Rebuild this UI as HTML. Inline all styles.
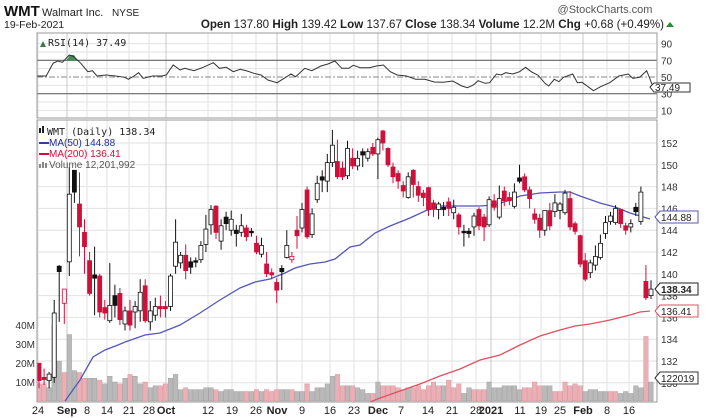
<!DOCTYPE html>
<html><head><meta charset="utf-8">
<style>
html,body{margin:0;padding:0;background:#fff;width:716px;height:418px;overflow:hidden}
svg{display:block;font-family:"Liberation Sans",sans-serif}
</style></head><body>
<svg id="c" width="716" height="418" viewBox="0 0 716 418" xmlns="http://www.w3.org/2000/svg">
<text x="4" y="16" font-size="15" font-weight="bold" fill="#111">WMT</text>
<text x="42" y="16" font-size="11" fill="#222">Walmart Inc.</text>
<text x="112" y="16" font-size="10" fill="#222">NYSE</text>
<text x="4" y="28" font-size="10.5" fill="#222">19-Feb-2021</text>
<text x="605" y="13" font-size="11" fill="#555" text-anchor="middle">@StockCharts.com</text>
<text x="664" y="28" font-size="11.6" fill="#222" text-anchor="end"><tspan font-weight="bold">Open</tspan> 137.80 <tspan font-weight="bold">High</tspan> 139.42 <tspan font-weight="bold">Low</tspan> 137.67 <tspan font-weight="bold">Close</tspan> 138.34 <tspan font-weight="bold">Volume</tspan> 12.2M <tspan font-weight="bold">Chg</tspan> +0.68 (+0.49%)</text>
<polygon points="666,27 670,22 674,27" fill="#2a8a3a"/>
<g id="g"></g>
</svg>
<script>
var g=document.getElementById('g'),S='';
function L(x1,y1,x2,y2,c,w,d){S+='<line x1="'+x1+'" y1="'+y1+'" x2="'+x2+'" y2="'+y2+'" stroke="'+c+'" stroke-width="'+(w||1)+'"'+(d?' stroke-dasharray="'+d+'"':'')+'/>';}
function T(x,y,t,o){S+='<text x="'+x+'" y="'+y+'" '+(o||'')+'>'+t+'</text>';}
var X0=37,X1=657;
var dates=[[38,'24',0],[67,'Sep',1],[87,'8',0],[107,'14',0],[129,'21',0],[149,'28',0],[166,'Oct',1],[208,'12',0],[232,'19',0],[256,'26',0],[277,'Nov',1],[302,'9',0],[330,'16',0],[354,'23',0],[378,'Dec',1],[401,'7',0],[428,'14',0],[452,'21',0],[476,'28',0],[491,'2021',1],[520,'11',0],[541,'19',0],[560,'25',0],[583,'Feb',1],[607,'8',0],[629,'16',0]];
var RT=33,RB=118;
function ry(r){return 77-(r-50)*0.835;}
for(var r=10;r<=90;r+=10){if(r!=70&&r!=30&&r!=50)L(X0,ry(r),X1,ry(r),'#e2e2e2');}
dates.forEach(function(d){L(d[0],RT,d[0],RB,d[2]?'#c8c8c8':'#e2e2e2');});
L(X0,ry(70),X1,ry(70),'#666',1.2);L(X0,ry(30),X1,ry(30),'#666',1.2);L(X0,ry(50),X1,ry(50),'#888',1,'6,2,2,2');
var rp=[[80,228],[100,228],[115,190],[125,183],[135,187],[150,165],[160,170],[175,190],[190,215],[200,212],[210,228],[230,225],[250,228],[270,232],[278,238],[290,228],[300,218],[310,235],[330,228],[350,228],[360,225],[375,195],[390,210],[400,205],[420,212],[440,202],[462,188],[475,205],[490,202],[505,215],[520,208],[535,213],[550,220],[565,225],[580,240],[600,248],[615,235],[630,222],[640,230],[660,205],[675,212],[695,198],[710,192],[725,183],[740,205],[755,205],[765,196],[780,203],[800,203],[815,198],[830,195],[845,215],[860,225],[880,228],[900,238],[920,238],[940,246],[960,247],[980,243],[1000,258],[1012,263],[1025,255],[1035,242],[1050,250],[1060,248],[1075,222],[1085,225],[1095,218],[1110,222],[1125,215],[1138,202],[1150,215],[1165,226],[1180,250],[1188,258],[1200,238],[1210,245],[1220,232],[1240,222],[1250,248],[1260,247],[1275,262],[1285,272],[1300,260],[1320,248],[1340,228],[1360,222],[1370,235],[1385,232],[1400,212],[1415,265],[1425,260]];
S+='<polygon points="66,61 70,55 74,55 78,61" fill="#4a8a5a"/>';
S+='<polyline fill="none" stroke="#333" stroke-width="1" points="'+rp.map(function(p){return (p[0]/2.165).toFixed(1)+','+(p[1]/3).toFixed(1)}).join(' ')+'"/>';
S+='<rect x="'+X0+'" y="'+RT+'" width="'+(X1-X0)+'" height="'+(RB-RT)+'" fill="none" stroke="#999"/>';
[90,70,50,30,10].forEach(function(r){T(661,ry(r)+4,r,'font-size="10" fill="#333"');});
S+='<polygon points="650,87 654,83 690,83 690,92 654,92" fill="#fff" stroke="#333"/>';T(655,91,'37.49','font-size="10" fill="#222"');
S+='<polygon points="40,47 43,41 46,47" fill="#3a7a4a"/>';T(48,46,'RSI(14) 37.49','font-size="10" fill="#222" font-family="DejaVu Sans Mono, monospace"');
var MT=120,MB=402;
function py(p){return 143+(152-p)*10.9;}
for(var p=130;p<=152;p+=2){L(X0,py(p),X1,py(p),'#e2e2e2');}
dates.forEach(function(d){L(d[0],MT,d[0],MB,d[2]?'#c8c8c8':'#e2e2e2');});
var vol=[[9,'p'],[9,'p'],[7,'g'],[40,'g'],[21,'g'],[15,'p'],[35,'g'],[16,'g'],[15,'p'],[12,'p'],[12,'g'],[12,'g'],[11,'p'],[9,'g'],[13,'g'],[10,'g'],[9,'p'],[12,'g'],[14,'p'],[13,'g'],[9,'g'],[10,'p'],[7,'g'],[8,'g'],[8,'p'],[9,'p'],[12,'g'],[14,'g'],[6,'g'],[7,'p'],[6,'g'],[6,'g'],[6,'g'],[7,'g'],[7,'g'],[6,'p'],[5,'g'],[6,'g'],[6,'g'],[5,'g'],[5,'g'],[5,'p'],[5,'g'],[6,'p'],[5,'g'],[6,'p'],[5,'p'],[6,'p'],[6,'g'],[6,'g'],[6,'p'],[5,'g'],[5,'g'],[9,'p'],[5,'g'],[7,'g'],[7,'g'],[9,'g'],[13,'g'],[14,'p'],[8,'p'],[8,'g'],[8,'p'],[7,'g'],[6,'g'],[4,'g'],[4,'p'],[10,'g'],[8,'p'],[8,'p'],[8,'p'],[7,'p'],[6,'p'],[7,'g'],[7,'p'],[8,'p'],[6,'p'],[8,'p'],[10,'p'],[8,'p'],[8,'g'],[11,'p'],[7,'p'],[9,'p'],[4,'g'],[7,'g'],[6,'p'],[6,'p'],[6,'p'],[10,'g'],[7,'g'],[7,'g'],[8,'g'],[8,'g'],[8,'g'],[6,'g'],[7,'p'],[7,'p'],[10,'p'],[8,'p'],[8,'g'],[8,'g'],[5,'p'],[5,'p'],[10,'p'],[8,'p'],[9,'p'],[8,'p'],[5,'g'],[6,'g'],[6,'g'],[5,'g'],[5,'g'],[5,'p'],[5,'p'],[4,'g'],[5,'g'],[4,'g'],[8,'g'],[7,'g'],[34,'p'],[10,'g']];
var N=122;function xi(i){return 39+i*(612/(N-1));}
vol.forEach(function(v,i){var h=v[0]*1.9;S+='<rect x="'+(xi(i)-2.3).toFixed(1)+'" y="'+(401-h).toFixed(1)+'" width="4.6" height="'+h.toFixed(1)+'" fill="'+(v[1]=='p'?'#eab0b6':'#b9b9b9')+'" stroke="'+(v[1]=='p'?'#d89098':'#999')+'" stroke-width="0.4"/>';});
var ma50=[[65,401],[80,380],[93,357],[105,350],[118,345],[125,342],[145,335],[160,333],[180,325],[200,313],[220,300],[240,288],[255,282],[270,279],[285,273],[295,268],[310,264],[325,262],[335,259],[350,247],[360,245],[375,233],[390,226],[410,218],[425,211],[440,206],[460,206],[480,206],[495,205],[510,200],[520,196],[540,193],[560,192],[570,192],[580,196],[600,203],[615,207],[630,213],[640,216],[650,219]];
var ma200=[[370,402],[380,398],[400,391],[420,384],[440,376],[460,369],[480,360],[500,355],[520,345],[540,336],[560,330],[575,326],[590,324],[610,320],[630,315],[640,312],[650,311]];
S+='<polyline fill="none" stroke="#5555bb" stroke-width="1.3" points="'+ma50.join(' ')+'"/>';
S+='<polyline fill="none" stroke="#e05060" stroke-width="1.3" points="'+ma200.join(' ')+'"/>';
var cd=[[131.8,130.2,131.8,129.5,'r'],[130.5,130.3,131.3,129.8,'r'],[130.8,130.2,131,129.5,'w'],[136.4,130.5,137.6,130,'w'],[140.7,140.2,140.8,135.6,'b'],[138.6,137.3,138.6,135.4,'rh'],[147.3,141.1,149.8,139.8,'w'],[149.5,147.5,149.5,146.5,'b'],[146.4,144.3,149.3,141.6,'r'],[143.8,142.5,145,140,'r'],[141.2,138.2,142,138,'r'],[139.9,139.6,142.5,136.2,'b'],[139.8,136.5,140,136,'r'],[136.9,136.4,137.6,135.8,'r'],[137.1,135.7,141,135.5,'w'],[138,137.1,139,136,'b'],[138.2,135.8,138.7,135.3,'r'],[136.6,135.4,137,134.8,'w'],[136.6,135.3,137.6,134.8,'r'],[137,136.5,137.5,135,'w'],[138.3,136.6,139.5,135.6,'w'],[138.9,135.7,139.5,135.5,'r'],[136.6,135.6,137.5,134.8,'w'],[137,136.2,137.8,135.7,'w'],[137,136.8,138,136,'r'],[137,136.8,137.5,136,'r'],[139.8,137,140,136.6,'w'],[142.9,140.7,145,140,'w'],[141.7,141,142,140.5,'w'],[141.7,140.3,142.7,139.5,'r'],[141.1,140.6,141.5,140,'b'],[141.2,141.1,141.5,140.6,'b'],[142.6,141.3,143,141,'w'],[144.1,142.7,145.4,142,'w'],[145.9,144.5,146.3,143.6,'w'],[146.2,143.8,146.3,143.2,'r'],[144.4,143,145,142.2,'w'],[145.2,144.6,145.7,144,'b'],[145,144,145.8,143.5,'w'],[144,143.7,144.5,142.5,'b'],[144.4,143.8,145.5,143.4,'w'],[144.2,143.4,144.5,143,'r'],[143.9,143.8,144.2,143.4,'b'],[142.8,142,143.5,141.8,'r'],[142.6,141.8,143.3,141.5,'w'],[140.9,140,142,139.7,'r'],[140.1,139.9,140.5,139.5,'r'],[139.2,138.5,139.6,137.3,'r'],[140.5,140.2,140.8,138.5,'b'],[142.6,141.5,144,141.4,'w'],[141.6,141.3,142,141,'rh'],[144,143.5,145.3,142.3,'r'],[145.9,144.2,146.5,143.8,'w'],[147.7,143.4,148,143.2,'r'],[145.5,143.6,146,143.3,'w'],[148.3,146.8,149,146.5,'w'],[148.9,148.6,149.5,147.5,'b'],[150.2,148.5,151,147.5,'w'],[151.8,150.2,153.2,149.8,'w'],[150.3,148.9,152.3,148.7,'r'],[149.7,148.9,150.3,148.6,'r'],[151.5,149,152.2,148.7,'w'],[150.6,149.9,151.5,149.6,'r'],[150.6,149.9,151.3,149.5,'w'],[151.2,150.9,151.5,149.8,'b'],[151.2,150.6,151.5,150.3,'w'],[151.6,151,152,150.8,'r'],[152.3,151,152.5,148.7,'w'],[153.1,152,153.2,151.3,'r'],[151.5,150,151.6,149.8,'r'],[149.8,148.9,150.2,148.3,'r'],[149.2,148.5,149.5,147.8,'r'],[148.1,147.6,148.5,147,'r'],[148.9,147,149.3,146.9,'w'],[149.5,148.2,149.6,147,'r'],[148,147.2,148.5,146.6,'r'],[147.4,147,147.7,146.2,'r'],[147.9,145.9,148,145.3,'r'],[146.5,145.9,146.8,145.2,'r'],[146.4,145.9,146.6,145,'w'],[146.1,145.9,146.6,145.3,'b'],[146.6,146,147,145.3,'r'],[146.1,145.6,146.8,145,'w'],[145.4,144.3,145.6,143.6,'r'],[143.9,143.8,144.5,142.5,'b'],[143.9,143.7,144.2,143.3,'b'],[145.3,144.3,145.6,143.5,'w'],[145.9,144.4,146.1,144,'r'],[145.2,144.3,145.5,143,'r'],[146.8,144.5,147.1,144.3,'w'],[146.7,146.1,147.3,145.8,'r'],[146.9,145.2,148.1,145,'w'],[147.6,146.7,148,146.2,'r'],[147,146.7,147.5,146.3,'r'],[147.5,146.2,148.3,146,'w'],[148.8,148.5,150,148.3,'b'],[148.9,147.7,149.2,147.5,'r'],[147.7,146.9,148,146,'r'],[145.5,145,146,144.6,'r'],[145.1,144,145.5,143.3,'r'],[145.8,144,145.8,143.5,'w'],[145.8,144.4,146.5,144,'r'],[146.5,145.7,147.3,145.2,'w'],[146.4,145.8,146.6,145,'w'],[147.4,145.6,147.7,145.4,'w'],[146.9,144.3,147.6,144,'r'],[144.6,143.9,144.8,143.6,'r'],[143.5,140.9,143.6,140.6,'r'],[141.2,139.5,141.9,139.3,'r'],[141,140.1,141.3,139.6,'w'],[141.6,140.8,142.6,140.3,'w'],[142.8,141.5,143.6,141.3,'w'],[144.7,143.7,145.3,143.2,'w'],[145.3,144.8,145.7,144.5,'w'],[146,144.7,146.3,144.5,'w'],[145.9,144.6,146,144.2,'r'],[144.4,144,144.7,143.6,'r'],[144.6,144.3,145,143.8,'w'],[146.1,145.7,146.5,145.3,'b'],[147.5,144.8,148,144.5,'w'],[139.3,137.8,140.8,137.6,'r'],[138.6,138,139.4,137.7,'w']];
cd.forEach(function(c,i){var x=xi(i),t=py(c[0]),b=py(c[1]),h=py(c[2]),l=py(c[3]);var red=c[4]=='r'||c[4]=='rh';var sc=red?'#d0103a':'#111';
L(x.toFixed(1),h.toFixed(1),x.toFixed(1),l.toFixed(1),sc,1);
var fill=c[4]=='r'?'#d0103a':c[4]=='b'?'#111':'#fff';var bh=Math.max(b-t,1.5);
S+='<rect x="'+(x-2).toFixed(1)+'" y="'+t.toFixed(1)+'" width="4" height="'+bh.toFixed(1)+'" fill="'+fill+'" stroke="'+sc+'" stroke-width="0.8"/>';});
S+='<rect x="'+X0+'" y="'+MT+'" width="'+(X1-X0)+'" height="'+(MB-MT)+'" fill="none" stroke="#999"/>';
for(var p=130;p<=152;p+=2){T(661,py(p)+4,p,'font-size="10" fill="#333"');}
[[40,325],[30,344],[20,363],[10,382]].forEach(function(v){T(35,v[1]+4,v[0]+'M','font-size="10" fill="#333" text-anchor="end"');});
function tag(y,t,c,b){S+='<polygon points="655,'+y+' 660,'+(y-6)+' 698,'+(y-6)+' 698,'+(y+6)+' 660,'+(y+6)+'" fill="#fff" stroke="'+c+'"/>';T(661,y+4,t,'font-size="10" fill="#222"'+(b?' font-weight="bold"':''));}
tag(217,'144.88','#5555bb');tag(311,'136.41','#e05060');tag(289,'138.34','#222',1);tag(378,'122019','#333');
S+='<rect x="39" y="128" width="2" height="5" fill="#222"/><rect x="42" y="126" width="2" height="7" fill="#222"/>';
T(47,135,'WMT (Daily) 138.34','font-size="10" fill="#222" font-family="DejaVu Sans Mono, monospace"');
L(39,143,49,143,'#3a3aa0',2);T(49,146,'MA(50) 144.88','font-size="10" fill="#2a2aa0"');
L(39,154,49,154,'#d0103a',2);T(49,157,'MA(200) 136.41','font-size="10" fill="#d0103a"');
S+='<rect x="39" y="164" width="2" height="4" fill="#888"/><rect x="42" y="162" width="2" height="6" fill="#888"/><rect x="45" y="163" width="2" height="5" fill="#888"/>';
T(49,168,'Volume 12,201,992','font-size="10" fill="#555"');
dates.forEach(function(d){T(d[0],414,d[1],'font-size="11" fill="#222" text-anchor="middle"'+(d[2]?' font-weight="bold"':''));});
g.innerHTML=S;
</script>
</body></html>
